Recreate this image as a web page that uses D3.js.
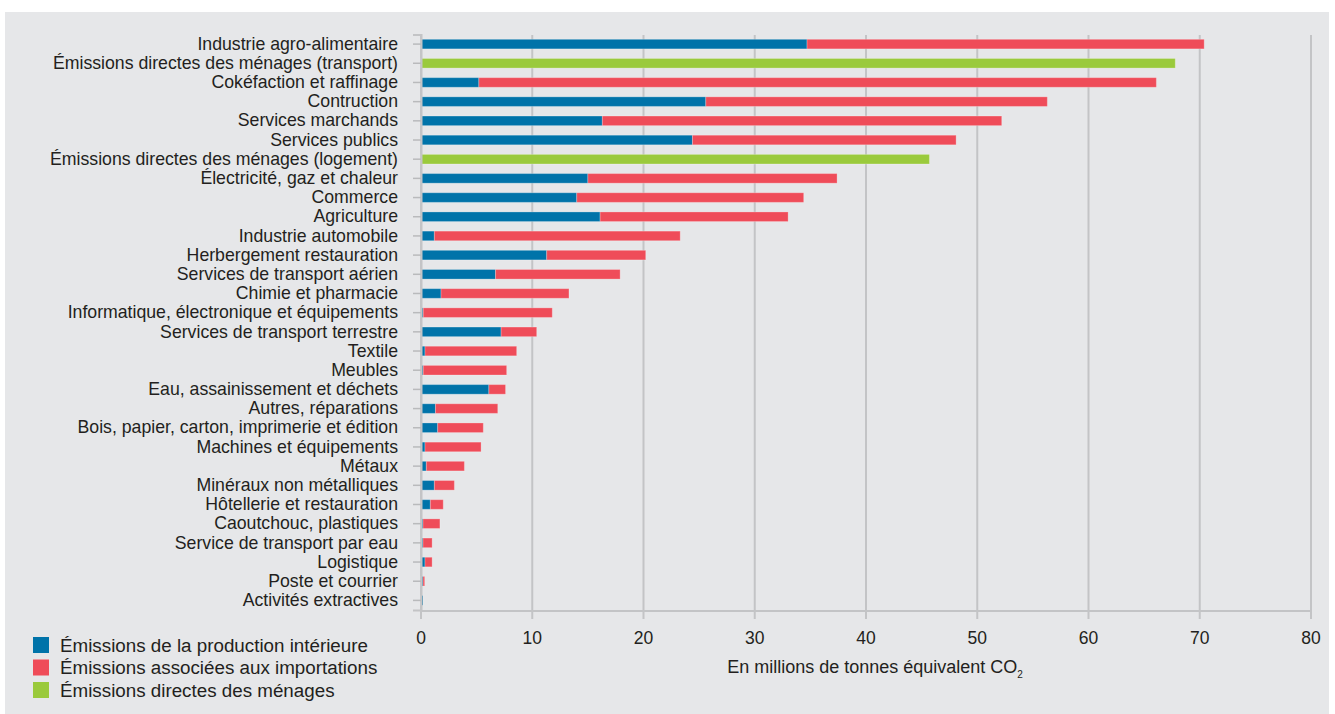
<!DOCTYPE html>
<html>
<head>
<meta charset="utf-8">
<script src="https://cdn.jsdelivr.net/npm/d3@7"></script>
<style>
  body { margin: 0; background: #fff; font-family: "Liberation Sans", Arial, sans-serif; }
  svg { display: block; }
</style>
</head>
<body>
<svg id="chart" width="1335" height="714"></svg>
<script>
var categories = [
  "Industrie agro-alimentaire",
  "Émissions directes des ménages (transport)",
  "Cokéfaction et raffinage",
  "Contruction",
  "Services marchands",
  "Services publics",
  "Émissions directes des ménages (logement)",
  "Électricité, gaz et chaleur",
  "Commerce",
  "Agriculture",
  "Industrie automobile",
  "Herbergement restauration",
  "Services de transport aérien",
  "Chimie et pharmacie",
  "Informatique, électronique et équipements",
  "Services de transport terrestre",
  "Textile",
  "Meubles",
  "Eau, assainissement et déchets",
  "Autres, réparations",
  "Bois, papier, carton, imprimerie et édition",
  "Machines et équipements",
  "Métaux",
  "Minéraux non métalliques",
  "Hôtellerie et restauration",
  "Caoutchouc, plastiques",
  "Service de transport par eau",
  "Logistique",
  "Poste et courrier",
  "Activités extractives"
];
// domestic production emissions
var production = [34.7, 0, 5.2, 25.6, 16.3, 24.4, 0, 15.0, 14.0, 16.1,
  1.2, 11.3, 6.7, 1.8, 0.2, 7.2, 0.36, 0.2, 6.1, 1.3,
  1.5, 0.36, 0.48, 1.2, 0.84, 0.18, 0.18, 0.36, 0.18, 0.18];
// import emissions
var imports = [35.7, 0, 60.9, 30.7, 35.9, 23.7, 0, 22.4, 20.4, 16.9,
  22.1, 8.9, 11.2, 11.5, 11.6, 3.2, 8.24, 7.5, 1.5, 5.6,
  4.1, 5.04, 3.42, 1.8, 1.16, 1.52, 0.82, 0.64, 0.15, 0];
// household direct emissions
var menages = [0, 67.8, 0, 0, 0, 0, 45.7, 0, 0, 0,
  0, 0, 0, 0, 0, 0, 0, 0, 0, 0,
  0, 0, 0, 0, 0, 0, 0, 0, 0, 0];
var xTicks = [0, 10, 20, 30, 40, 50, 60, 70, 80];
var keys = ["production", "imports", "menages"];
var legendLabels = [
  "Émissions de la production intérieure",
  "Émissions associées aux importations",
  "Émissions directes des ménages"
];
var colors = ["#0073a9", "#ef4c59", "#9aca3c"];

var data = categories.map(function(c, i) {
  return { name: c, production: production[i], imports: imports[i], menages: menages[i] };
});

var svg = d3.select("#chart");
var fontFam = '"Liberation Sans", Arial, sans-serif';

svg.append("rect")
  .attr("x", 5).attr("y", 12)
  .attr("width", 1324).attr("height", 702)
  .attr("fill", "#e6e7e9");

var x = d3.scaleLinear().domain([0, 80]).range([421, 1311]);
var y = d3.scaleBand().domain(categories).range([34.5, 610]).paddingInner(0.5).paddingOuter(0.25);
var z = d3.scaleOrdinal().domain(keys).range(colors);

// gridlines
svg.append("g")
  .selectAll("line")
  .data(xTicks)
  .enter()
  .append("line")
  .attr("x1", function(d) { return x(d); })
  .attr("x2", function(d) { return x(d); })
  .attr("y1", 35)
  .attr("y2", 619)
  .attr("stroke", "#c3c4c6")
  .attr("stroke-width", 2);

// axis baseline
svg.append("line")
  .attr("x1", x(0)).attr("x2", x(80))
  .attr("y1", 611).attr("y2", 611)
  .attr("stroke", "#c3c4c6")
  .attr("stroke-width", 2);

// bars
svg.append("g")
  .selectAll("g")
  .data(d3.stack().keys(keys)(data))
  .enter()
  .append("g")
  .attr("fill", function(d) { return z(d.key); })
  .selectAll("rect")
  .data(function(d) { return d.filter(function(e) { return e[1] - e[0] > 0; }); })
  .enter()
  .append("rect")
  .attr("x", function(d) { return x(d[0]); })
  .attr("y", function(d) { return y(d.data.name); })
  .attr("width", function(d) { return x(d[1]) - x(d[0]); })
  .attr("height", y.bandwidth())
  .attr("stroke", "rgba(255,255,255,0.25)")
  .attr("stroke-width", 1);

// category axis
var yAxis = svg.append("g")
  .attr("transform", "translate(421,0)")
  .call(d3.axisLeft(y).tickSize(8).tickPadding(15));
yAxis.select(".domain").attr("stroke", "#c3c4c6").attr("stroke-width", 2);
yAxis.selectAll(".tick line").attr("stroke", "#b9babc").attr("stroke-width", 1.5);
yAxis.selectAll(".tick text")
  .attr("fill", "#231f20")
  .attr("font-size", 17.7)
  .attr("font-family", fontFam);

// value axis labels
svg.append("g")
  .selectAll("text")
  .data(xTicks)
  .enter()
  .append("text")
  .attr("x", function(d) { return x(d); })
  .attr("y", 644)
  .attr("text-anchor", "middle")
  .attr("fill", "#231f20")
  .attr("font-size", 17.5)
  .attr("font-family", fontFam)
  .text(function(d) { return d; });

var title = svg.append("text")
  .attr("x", 875)
  .attr("y", 673)
  .attr("text-anchor", "middle")
  .attr("fill", "#231f20")
  .attr("font-size", 18)
  .attr("font-family", fontFam)
  .text("En millions de tonnes équivalent CO");
title.append("tspan")
  .attr("font-size", 10)
  .attr("dy", 5)
  .text("2");

// legend
var legend = svg.append("g")
  .selectAll("g")
  .data(legendLabels)
  .enter()
  .append("g")
  .attr("transform", function(d, i) { return "translate(33," + (637 + i * 22.5) + ")"; });

legend.append("rect")
  .attr("width", 16)
  .attr("height", 16)
  .attr("fill", function(d, i) { return colors[i]; });

legend.append("text")
  .attr("x", 27)
  .attr("y", 8)
  .attr("dy", "0.35em")
  .attr("fill", "#231f20")
  .attr("font-size", 18.8)
  .attr("font-family", fontFam)
  .text(function(d) { return d; });
</script>
</body>
</html>
